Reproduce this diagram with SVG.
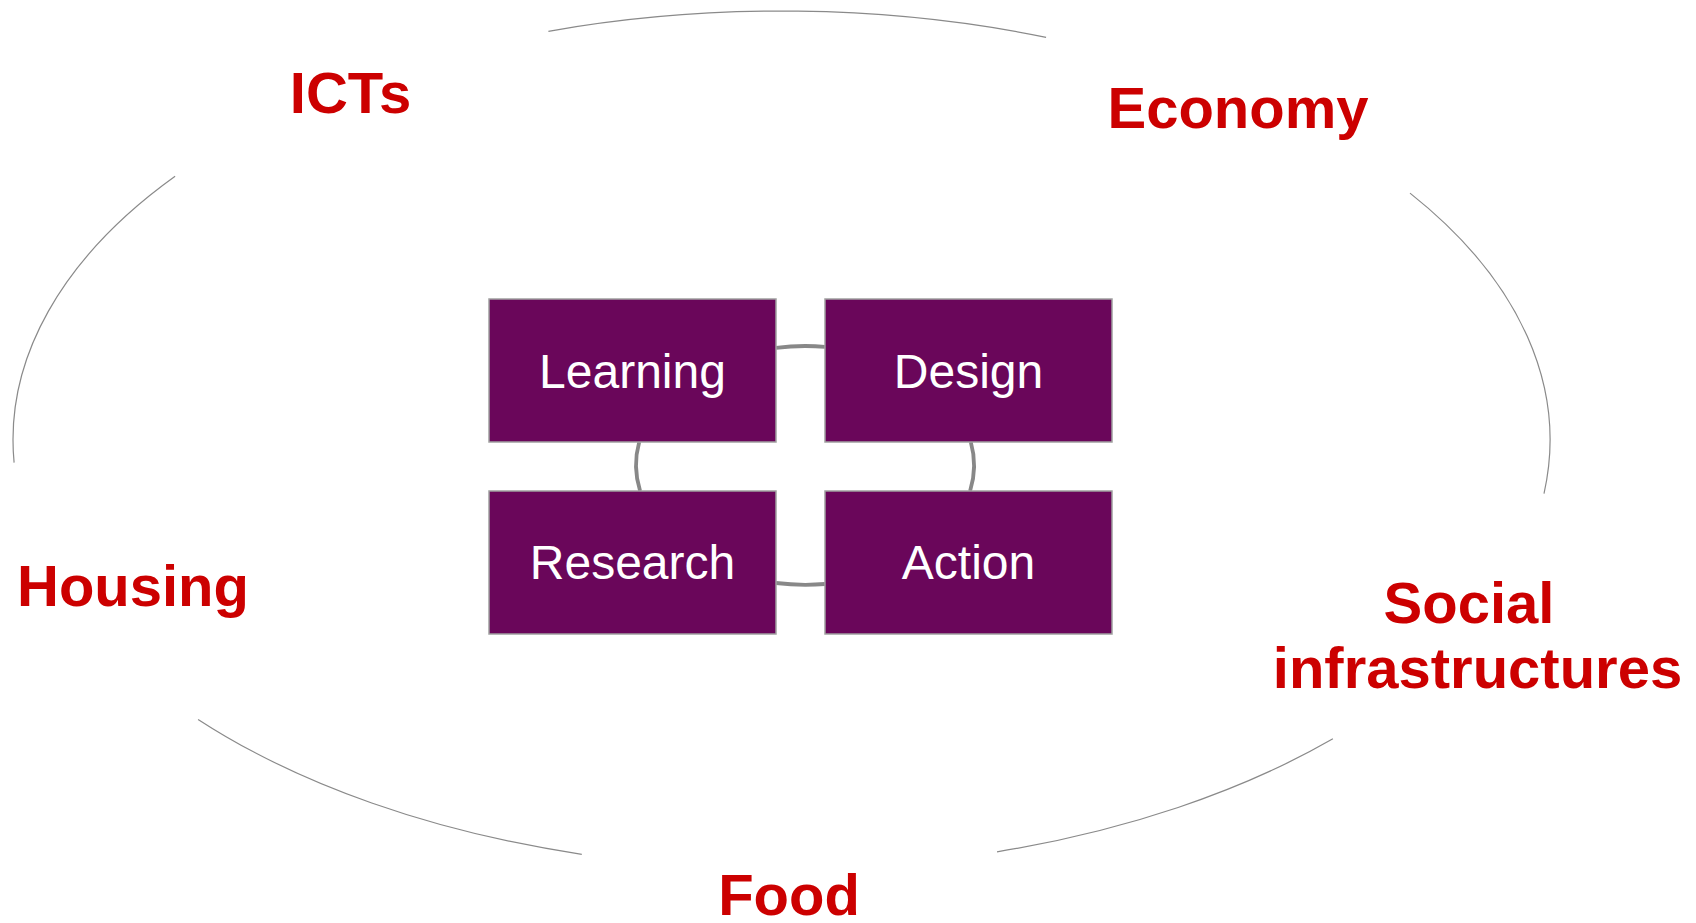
<svg xmlns="http://www.w3.org/2000/svg" width="1696" height="923" viewBox="0 0 1696 923">
<style>
.ring{fill:none;stroke:#8a8a8a;stroke-width:1.2}
.conn{fill:none;stroke:#888888;stroke-width:3.8}
.box{fill:#6a065a;stroke:#a0a0a0;stroke-width:1.5}
.lbl{font-family:"Liberation Sans",Arial,sans-serif;font-size:48px;fill:#ffffff;text-anchor:middle}
.topic{font-family:"Liberation Sans",Arial,sans-serif;font-size:58px;font-weight:bold;fill:#cc0000;text-anchor:middle}
</style>
<rect width="1696" height="923" fill="#ffffff"/>
<g id="outer-ring">
<path class="ring" d="M1410 193.1 A768.5 429 0 0 1 1544 493.6"/>
<path class="ring" d="M1332.9 738.8 A768.5 429 0 0 1 997 851.8"/>
<path class="ring" d="M581.8 854.3 A768.5 429 0 0 1 198.1 719.4"/>
<path class="ring" d="M14.1 462.6 A768.5 429 0 0 1 175.1 176.3"/>
<path class="ring" d="M548.4 31.3 A768.5 429 0 0 1 1046.1 37.3"/>
</g>
<g id="connectors">
<path class="conn" d="M776 347.8 A169 119 0 0 1 825 346.8"/>
<path class="conn" d="M970.8 442 A169 119 0 0 1 970.1 491"/>
<path class="conn" d="M825 584 A169 119 0 0 1 776 583"/>
<path class="conn" d="M640.1 491 A169 119 0 0 1 639.2 442"/>
</g>
<g id="learning"><rect class="box" x="489" y="299" width="287" height="143"/><text class="lbl" x="632.5" y="387.5">Learning</text></g>
<g id="design"><rect class="box" x="825" y="299" width="287" height="143"/><text class="lbl" x="968.5" y="387.5">Design</text></g>
<g id="research"><rect class="box" x="489" y="491" width="287" height="143"/><text class="lbl" x="632.5" y="579">Research</text></g>
<g id="action"><rect class="box" x="825" y="491" width="287" height="143"/><text class="lbl" x="968.5" y="579">Action</text></g>
<g id="icts"><text class="topic" x="350.5" y="113">ICTs</text></g>
<g id="economy"><text class="topic" x="1238" y="128">Economy</text></g>
<g id="housing"><text class="topic" x="133" y="606">Housing</text></g>
<g id="food"><text class="topic" x="789" y="915">Food</text></g>
<g id="social"><text class="topic" x="1469" y="623">Social</text><text class="topic" x="1477.5" y="688">infrastructures</text></g>
</svg>
